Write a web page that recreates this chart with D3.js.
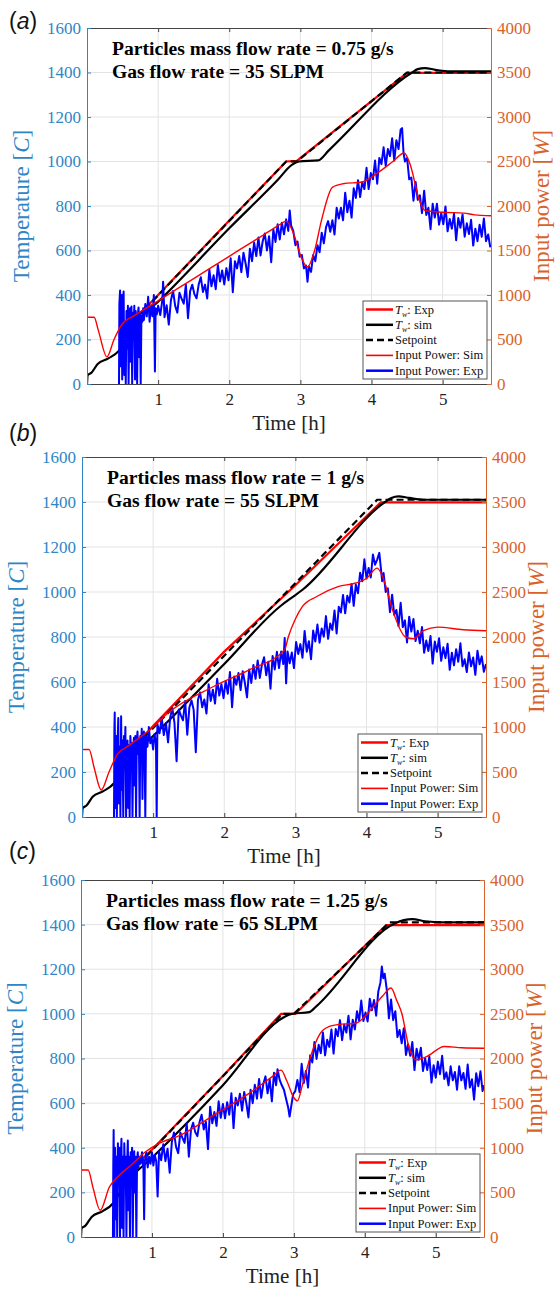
<!DOCTYPE html>
<html lang="en">
<head>
<meta charset="utf-8">
<title>Wall temperature and input power</title>
<script src="https://d3js.org/d3.v7.min.js"></script>
<style>
  body { margin: 0; background: #fff; }
  svg text { font-family: "Liberation Serif", "Times New Roman", serif; }
</style>
</head>
<body>
<div id="chart"></div>
<script>
// ticks
const timeTicks = [1, 2, 3, 4, 5];
const tempTicks = [0, 200, 400, 600, 800, 1000, 1200, 1400, 1600];
const powerTicks = [0, 500, 1000, 1500, 2000, 2500, 3000, 3500, 4000];
const timeMax = 5.68;

const panelLetters = ["a", "b", "c"];
const titleFlow = ["Particles mass flow rate = 0.75 g/s", "Particles mass flow rate = 1 g/s", "Particles mass flow rate = 1.25 g/s"];
const titleGas = ["Gas flow rate = 35 SLPM", "Gas flow rate = 55 SLPM", "Gas flow rate = 65 SLPM"];
const legendNames = ["Exp", "sim", "Setpoint", "Input Power: Sim", "Input Power: Exp"];

// ---- panel (a) ----  [time h, temperature C] / [time h, power W]
const setpointA = [[0.6, 265], [2.8, 1000], [2.95, 1000], [4.5, 1400], [5.68, 1400]];
const twExpA = [[0.6, 270], [1.0, 400], [2.0, 735], [2.8, 1000], [2.95, 1003], [3.7, 1195], [4.5, 1398], [5.68, 1398]];
const twSimA = [[0, 0], [0.01, 40], [0.06, 50], [0.15, 90], [0.3, 115], [0.45, 150], [0.55, 200], [0.7, 280], [1.0, 370], [2.0, 700], [2.68, 917], [2.88, 985], [2.98, 1000], [3.25, 1005], [3.4, 1050], [4.57, 1400], [4.65, 1415], [4.75, 1420], [4.9, 1412], [5.1, 1405], [5.68, 1405]];
const powSimA = [[0, 750], [0.1, 750], [0.16, 600], [0.28, 305], [0.38, 500], [0.5, 680], [0.65, 760], [1.0, 935], [1.5, 1185], [2.0, 1435], [2.5, 1685], [2.71, 1790], [2.8, 1830], [2.9, 1700], [3.0, 1450], [3.1, 1315], [3.2, 1500], [3.3, 1850], [3.45, 2210], [3.6, 2250], [3.87, 2270], [4.1, 2380], [4.3, 2500], [4.46, 2596], [4.55, 2450], [4.67, 2070], [4.75, 1950], [5.0, 1930], [5.3, 1920], [5.45, 1900], [5.68, 1890]];
const powExpA = [[0.45,0],[0.455,900],[0.465,1050],[0.475,200],[0.485,1000],[0.495,50],[0.505,950],[0.515,1040],[0.525,100],[0.535,700],[0.545,0],[0.555,820],[0.565,400],[0.575,880],[0.585,0],[0.595,760],[0.605,850],[0.615,250],[0.625,870],[0.635,0],[0.645,800],[0.655,600],[0.665,880],[0.675,50],[0.685,820],[0.695,700],[0.705,0],[0.715,780],[0.725,860],[0.735,300],[0.745,800],[0.755,0],[0.765,760],[0.78,700],[0.79,850],[0.80,720],[0.82,900],[0.84,760],[0.86,980],[0.88,700],[0.90,880],[0.92,760],[0.94,1000],[0.955,140],[0.965,850],[0.98,780],
  [1.00,880],[1.03,774],[1.06,947],[1.07,1150],[1.09,751],[1.12,884],[1.15,668],[1.18,941],[1.21,1045],[1.24,878],[1.27,802],[1.30,1025],[1.33,959],[1.36,902],[1.39,1116],[1.42,739],[1.45,1043],[1.48,1116],[1.51,1010],[1.54,963],[1.57,1117],[1.60,1200],[1.63,1034],[1.66,1117],[1.69,961],[1.72,1284],[1.75,1098],[1.78,1221],[1.81,1065],[1.84,1338],[1.87,1152],[1.90,1275],[1.93,1119],[1.96,1302],[1.99,1166],[2.02,1412],[2.05,1031],[2.08,1380],[2.11,1299],[2.14,1437],[2.17,1256],[2.20,1475],[2.23,1354],[2.26,1202],[2.29,1521],[2.32,1380],[2.35,1589],[2.38,1437],[2.41,1646],[2.44,1445],[2.47,1604],[2.50,1692],[2.53,1501],[2.56,1660],[2.59,1369],[2.62,1737],[2.65,1596],[2.68,1795],[2.71,1624],[2.74,1812],[2.77,1681],[2.80,1850],[2.83,1720],[2.85,1950],
  [2.87,1780],[2.90,1720],[2.93,1560],[2.96,1600],[2.99,1430],[3.02,1450],[3.05,1300],[3.08,1330],[3.10,1150],[3.12,1320],[3.15,1260],[3.18,1450],[3.21,1380],[3.24,1560],[3.27,1480],[3.30,1700],[3.33,1580],[3.36,1760],
  [3.39,1830],[3.42,1710],[3.45,1840],[3.48,1680],[3.51,1980],[3.54,1860],[3.57,1980],[3.60,1840],[3.63,2150],[3.66,1930],[3.69,2060],[3.72,1870],[3.75,2200],[3.78,2090],[3.81,2290],[3.84,2100],[3.87,2270],[3.90,2190],[3.93,2430],[3.96,2190],[3.99,2370],[4.02,2300],[4.05,2510],[4.08,2250],[4.11,2540],[4.14,2470],[4.17,2660],[4.20,2450],[4.23,2640],[4.26,2560],[4.29,2760],[4.32,2510],[4.35,2740],[4.38,2640],[4.41,2860],[4.43,2875],[4.45,2600],[4.47,2500],
  [4.50,2540],[4.53,2300],[4.56,2320],[4.59,2060],[4.62,2270],[4.65,2070],[4.68,2120],[4.71,1920],[4.74,2170],[4.77,1900],[4.80,1980],[4.83,1740],[4.86,2025],[4.89,1870],[4.92,2025],[4.95,1790],[4.98,1920],[5.01,1795],[5.04,1995],[5.07,1715],[5.10,1855],[5.13,1745],[5.16,1915],[5.19,1615],[5.22,1865],[5.25,1755],[5.28,1905],[5.31,1655],[5.34,1805],[5.37,1685],[5.40,1845],[5.43,1555],[5.46,1745],[5.49,1605],[5.52,1790],[5.55,1655],[5.58,1860],[5.61,1605],[5.64,1680],[5.67,1535]];

// ---- panel (b) ----
const setpointB = [[0.55, 250], [4.15, 1410], [5.68, 1410]];
const twExpB = [[0.6, 265], [1.0, 405], [2.0, 735], [3.0, 1030], [4.2, 1398], [5.68, 1398]];
const twSimB = [[0, 0], [0.01, 40], [0.06, 50], [0.15, 90], [0.3, 115], [0.45, 150], [0.55, 200], [0.7, 270], [1.0, 360], [2.0, 680], [2.8, 940], [2.95, 975], [3.1, 1010], [4.26, 1400], [4.35, 1418], [4.45, 1425], [4.6, 1418], [4.8, 1410], [5.68, 1410]];
const powSimB = [[0, 750], [0.1, 750], [0.17, 550], [0.27, 300], [0.38, 500], [0.5, 700], [0.65, 790], [1.0, 1000], [1.2, 1150], [1.85, 1450], [2.35, 1635], [2.85, 1860], [2.9, 2000], [3.0, 2200], [3.1, 2340], [3.3, 2450], [3.6, 2560], [3.85, 2600], [4.0, 2650], [4.15, 2765], [4.25, 2620], [4.35, 2340], [4.55, 2000], [4.66, 1980], [4.8, 2070], [5.0, 2110], [5.36, 2080], [5.68, 2070]];
const powExpB = [[0.45,0],[0.455,950],[0.46,1160],[0.47,100],[0.48,900],[0.49,0],[0.50,820],[0.51,1100],[0.52,150],[0.53,780],[0.54,0],[0.55,1120],[0.56,300],[0.57,850],[0.58,0],[0.59,900],[0.60,700],[0.61,1000],[0.62,0],[0.63,760],[0.64,850],[0.65,100],[0.66,800],[0.67,0],[0.68,900],[0.69,720],[0.70,820],[0.71,0],[0.72,780],[0.73,880],[0.74,350],[0.75,900],[0.76,0],[0.77,820],[0.78,950],[0.79,700],[0.80,860],[0.81,0],[0.82,900],[0.83,760],[0.84,980],[0.85,200],[0.86,850],[0.87,950],[0.88,780],[0.89,0],[0.90,900],[0.92,780],[0.94,1000],[0.96,820],[0.98,880],[1.0,750],[1.02,920],[1.04,820],[1.05,0],
  [1.06,1035],[1.09,930],[1.12,1105],[1.15,910],[1.18,1045],[1.21,830],[1.24,1105],[1.27,1210],[1.30,1045],[1.33,620],[1.36,1195],[1.39,1130],[1.42,1075],[1.45,1290],[1.48,915],[1.51,1220],[1.54,1295],[1.57,1190],[1.60,720],[1.63,1300],[1.66,1385],[1.69,1220],[1.72,1305],[1.75,1150],[1.78,1475],[1.81,1290],[1.84,1415],[1.87,1260],[1.90,1535],[1.93,1350],[1.96,1475],[1.99,1320],[2.02,1510],[2.05,1370],[2.08,1610],[2.11,1220],[2.14,1560],[2.17,1470],[2.20,1600],[2.23,1410],[2.26,1620],[2.29,1490],[2.32,1330],[2.35,1640],[2.38,1490],[2.41,1690],[2.44,1535],[2.47,1740],[2.50,1545],[2.53,1695],[2.56,1775],[2.59,1575],[2.62,1725],[2.65,1425],[2.68,1790],[2.71,1640],[2.74,1835],[2.77,1655],[2.80,1840],[2.83,1700],[2.85,1990],[2.86,1700],[2.87,1485],
  [2.89,1840],[2.92,1708],[2.95,1827],[2.98,1655],[3.01,1944],[3.04,1812],[3.07,1921],[3.10,1769],[3.13,2068],[3.16,1836],[3.19,1954],[3.22,1753],[3.25,2071],[3.28,1950],[3.31,2138],[3.34,1937],[3.37,2095],[3.40,2004],[3.43,2232],[3.46,1980],[3.49,2149],[3.52,2079],[3.55,2295],[3.58,2040],[3.61,2336],[3.64,2272],[3.67,2467],[3.70,2263],[3.73,2459],[3.76,2384],[3.79,2590],[3.82,2346],[3.85,2581],[3.88,2487],[3.91,2713],[3.94,2619],[3.97,2864],[4.00,2650],[4.03,2766],[4.06,2661],[4.09,2917],[4.12,2803],[4.15,2860],[4.18,2935],[4.20,2780],[4.22,2620],
  [4.24,2710],[4.27,2500],[4.30,2540],[4.33,2275],[4.36,2470],[4.39,2245],[4.42,2300],[4.45,2120],[4.48,2380],[4.51,2110],[4.54,2185],[4.57,1940],[4.60,2225],[4.63,2060],[4.66,2200],[4.69,1955],[4.72,2070],[4.75,1930],[4.78,2110],[4.81,1825],[4.84,1960],[4.87,1845],[4.90,2010],[4.93,1705],[4.96,1950],[4.99,1835],[5.02,1985],[5.05,1735],[5.08,1885],[5.11,1765],[5.14,1925],[5.17,1635],[5.20,1825],[5.23,1685],[5.26,1865],[5.29,1725],[5.32,1930],[5.35,1675],[5.38,1752],[5.41,1610],[5.44,1828],[5.47,1675],[5.50,1772],[5.53,1580],[5.56,1848],[5.59,1696],[5.62,1785],[5.65,1614],[5.68,1700]];

// ---- panel (c) ----
const setpointC = [[0.6, 255], [2.84, 1000], [3.0, 1000], [4.35, 1410], [5.68, 1410]];
const twExpC = [[0.8, 330], [1.0, 391], [2.0, 722], [2.82, 1000], [3.02, 1000], [4.3, 1398], [5.68, 1398]];
const twSimC = [[0, 0], [0.01, 40], [0.06, 50], [0.15, 90], [0.3, 115], [0.45, 150], [0.55, 200], [0.7, 265], [1.0, 355], [2.0, 680], [2.86, 985], [2.97, 1000], [3.22, 1008], [3.32, 1035], [4.42, 1405], [4.55, 1420], [4.67, 1425], [4.85, 1415], [5.1, 1410], [5.68, 1410]];
const powSimC = [[0, 750], [0.1, 750], [0.17, 550], [0.27, 300], [0.4, 560], [0.55, 700], [0.7, 800], [0.9, 950], [1.1, 1050], [1.37, 1130], [1.9, 1380], [2.37, 1610], [2.7, 1800], [2.82, 1870], [2.9, 1750], [3.0, 1560], [3.05, 1525], [3.12, 1700], [3.22, 1985], [3.37, 2280], [3.5, 2360], [3.62, 2380], [3.87, 2395], [4.12, 2580], [4.25, 2700], [4.37, 2790], [4.45, 2650], [4.52, 2510], [4.62, 2135], [4.72, 1985], [4.87, 2020], [5.12, 2135], [5.37, 2120], [5.68, 2115]];
const powExpC = [[0.45,0],[0.455,800],[0.46,1200],[0.47,0],[0.48,1000],[0.49,200],[0.50,900],[0.51,0],[0.52,1050],[0.53,600],[0.54,1000],[0.55,0],[0.56,850],[0.57,1100],[0.58,100],[0.59,900],[0.60,0],[0.61,1050],[0.62,700],[0.63,900],[0.64,0],[0.65,820],[0.66,1080],[0.67,300],[0.68,900],[0.69,0],[0.70,950],[0.71,800],[0.72,1000],[0.73,0],[0.74,880],[0.75,960],[0.76,500],[0.77,900],[0.78,0],[0.79,850],[0.80,950],[0.81,780],[0.82,900],[0.84,820],[0.86,950],[0.88,760],[0.89,200],[0.90,850],[0.92,950],[0.94,780],[0.96,900],[0.98,820],[1.00,950],[1.02,800],[1.04,920],[1.06,850],[1.08,455],
  [1.10,960],[1.13,860],[1.16,1040],[1.19,850],[1.22,990],[1.25,720],[1.28,1060],[1.31,1170],[1.34,1010],[1.37,940],[1.40,1170],[1.43,1110],[1.46,1055],[1.49,1275],[1.52,900],[1.55,1205],[1.58,1280],[1.61,1175],[1.64,1130],[1.67,1285],[1.70,1370],[1.73,1205],[1.76,1290],[1.79,985],[1.82,1460],[1.85,1275],[1.88,1400],[1.91,1245],[1.94,1520],[1.97,1335],[2.00,1490],[2.03,1330],[2.06,1510],[2.09,1370],[2.12,1610],[2.15,1220],[2.18,1560],[2.21,1475],[2.24,1605],[2.27,1415],[2.30,1625],[2.33,1500],[2.36,1340],[2.39,1650],[2.42,1500],[2.45,1705],[2.48,1550],[2.51,1770],[2.54,1560],[2.57,1715],[2.60,1800],[2.63,1610],[2.66,1765],[2.69,1520],[2.72,1840],[2.75,1700],[2.77,1880],
  [2.80,1760],[2.83,1700],[2.86,1650],[2.89,1550],[2.92,1450],[2.94,1350],[2.96,1450],[2.99,1600],
  [3.02,1635],[3.05,1760],[3.08,1625],[3.11,1940],[3.14,1725],[3.17,1860],[3.20,1675],[3.23,2035],[3.26,1955],[3.29,2185],[3.32,1995],[3.35,2155],[3.38,2060],[3.41,2290],[3.44,2035],[3.47,2210],[3.50,2130],[3.53,2325],[3.56,2055],[3.59,2330],[3.62,2250],[3.65,2430],[3.68,2205],[3.71,2380],[3.74,2290],[3.77,2480],[3.80,2215],[3.83,2435],[3.86,2325],[3.89,2530],[3.92,2420],[3.95,2650],[3.98,2420],[4.01,2515],[4.04,2415],[4.07,2670],[4.10,2540],[4.13,2655],[4.16,2480],[4.19,2750],[4.22,2850],[4.24,3030],[4.26,2900],[4.28,2950],
  [4.31,2770],[4.34,2450],[4.37,2660],[4.40,2430],[4.43,2530],[4.46,2240],[4.49,2320],[4.52,2170],[4.55,2340],[4.58,2040],[4.61,2160],[4.64,2030],[4.67,2185],[4.70,1870],[4.73,2110],[4.76,1985],[4.79,2120],[4.82,1860],[4.85,2000],[4.88,1870],[4.91,2020],[4.94,1730],[4.97,1925],[5.00,1785],[5.03,1965],[5.06,1825],[5.09,2030],[5.12,1770],[5.15,1845],[5.18,1700],[5.21,1912],[5.24,1755],[5.27,1848],[5.30,1650],[5.33,1912],[5.36,1755],[5.39,1838],[5.42,1660],[5.45,1932],[5.48,1675],[5.51,1768],[5.54,1540],[5.57,1835],[5.60,1690],[5.63,1857],[5.66,1635],[5.68,1700]];

const blueAxis = "#2f86c6";
const orangeAxis = "#d9622b";
const axisGray = "#444";
const serif = "'Liberation Serif', 'Times New Roman', serif";

const panels = [
  { left: 87, right: 491, top: 28, bottom: 384, labelY: 29, sp: setpointA, exp: twExpA, sim: twSimA, psim: powSimA, pexp: powExpA },
  { left: 82, right: 486, top: 457, bottom: 817, labelY: 441, sp: setpointB, exp: twExpB, sim: twSimB, psim: powSimB, pexp: powExpB },
  { left: 81, right: 484, top: 880, bottom: 1237, labelY: 859, sp: setpointC, exp: twExpC, sim: twSimC, psim: powSimC, pexp: powExpC }
];

const svg = d3.select("#chart").append("svg")
  .attr("width", 558).attr("height", 1293);

function styleAxis(sel, color, labelColor) {
  sel.attr("font-family", serif);
  sel.select(".domain").attr("stroke", color);
  sel.selectAll(".tick line").attr("stroke", color);
  sel.selectAll("text").attr("fill", labelColor)
    .style("font-size", "17px").style("font-family", serif);
}

panels.forEach(function (p, i) {
  const g = svg.append("g");
  const x = d3.scaleLinear().domain([0, timeMax]).range([p.left, p.right]);
  const yT = d3.scaleLinear().domain([0, 1600]).range([p.bottom, p.top]);
  const yP = d3.scaleLinear().domain([0, 4000]).range([p.bottom, p.top]);

  // grid
  g.selectAll(".gx").data(timeTicks).enter().append("line")
    .attr("x1", d => x(d)).attr("x2", d => x(d))
    .attr("y1", p.top).attr("y2", p.bottom)
    .attr("stroke", "#e3e3e3").attr("stroke-width", 1);
  g.selectAll(".gy").data(tempTicks.slice(1, -1)).enter().append("line")
    .attr("x1", p.left).attr("x2", p.right)
    .attr("y1", d => yT(d)).attr("y2", d => yT(d))
    .attr("stroke", "#e3e3e3").attr("stroke-width", 1);

  // lines
  const clipId = "clip" + i;
  svg.append("clipPath").attr("id", clipId).append("rect")
    .attr("x", p.left).attr("y", p.top - 2)
    .attr("width", p.right - p.left).attr("height", p.bottom - p.top + 2);
  const lines = g.append("g").attr("clip-path", "url(#" + clipId + ")");
  const lineT = d3.line().x(d => x(d[0])).y(d => yT(d[1]));
  const smoothT = d3.line().curve(d3.curveMonotoneX).x(d => x(d[0])).y(d => yT(d[1]));
  const lineP = d3.line().x(d => x(d[0])).y(d => yP(d[1]));
  const smoothP = d3.line().curve(d3.curveMonotoneX).x(d => x(d[0])).y(d => yP(d[1]));

  lines.append("path").datum(p.exp).attr("d", lineT)
    .attr("fill", "none").attr("stroke", "#ff0000").attr("stroke-width", 2.2);
  lines.append("path").datum(p.sim).attr("d", smoothT)
    .attr("fill", "none").attr("stroke", "#000").attr("stroke-width", 2.2);
  lines.append("path").datum(p.sp).attr("d", lineT)
    .attr("fill", "none").attr("stroke", "#000").attr("stroke-width", 2.2)
    .attr("stroke-dasharray", "7,4");
  lines.append("path").datum(p.pexp).attr("d", lineP)
    .attr("fill", "none").attr("stroke", "#0000ff").attr("stroke-width", 2)
    .attr("stroke-linejoin", "round");
  lines.append("path").datum(p.psim).attr("d", smoothP)
    .attr("fill", "none").attr("stroke", "#ff0000").attr("stroke-width", 1.4);

  // axes (MATLAB style ticks inside)
  const ax = g.append("g").attr("transform", `translate(0,${p.bottom})`)
    .call(d3.axisBottom(x).tickValues(timeTicks).tickFormat(d3.format("d"))
      .tickSizeInner(-4).tickSizeOuter(0).tickPadding(9));
  styleAxis(ax, axisGray, "#222");

  const axTop = g.append("g").attr("transform", `translate(0,${p.top})`)
    .call(d3.axisTop(x).tickValues(timeTicks).tickFormat("")
      .tickSizeInner(-4).tickSizeOuter(0));
  styleAxis(axTop, axisGray, "#222");

  const ayl = g.append("g").attr("transform", `translate(${p.left},0)`)
    .call(d3.axisLeft(yT).tickValues(tempTicks).tickFormat(d3.format("d"))
      .tickSizeInner(-4).tickSizeOuter(0).tickPadding(6));
  styleAxis(ayl, blueAxis, blueAxis);

  const ayr = g.append("g").attr("transform", `translate(${p.right},0)`)
    .call(d3.axisRight(yP).tickValues(powerTicks).tickFormat(d3.format("d"))
      .tickSizeInner(-4).tickSizeOuter(0).tickPadding(6));
  styleAxis(ayr, orangeAxis, orangeAxis);

  // axis titles
  const midY = (p.top + p.bottom) / 2;
  const tl = g.append("text")
    .attr("transform", `translate(${p.left - 58},${midY}) rotate(-90)`)
    .attr("text-anchor", "middle").attr("fill", blueAxis)
    .style("font-family", serif).style("font-size", "23px");
  tl.append("tspan").text("Temperature [");
  tl.append("tspan").attr("font-style", "italic").text("C");
  tl.append("tspan").text("]");

  const tr = g.append("text")
    .attr("transform", `translate(${p.right + 58},${midY}) rotate(-90)`)
    .attr("text-anchor", "middle").attr("fill", orangeAxis)
    .style("font-family", serif).style("font-size", "23px");
  tr.append("tspan").text("Input power [");
  tr.append("tspan").attr("font-style", "italic").text("W");
  tr.append("tspan").text("]");

  g.append("text")
    .attr("x", (p.left + p.right) / 2).attr("y", p.bottom + 46)
    .attr("text-anchor", "middle").attr("fill", "#222")
    .style("font-family", serif).style("font-size", "21px")
    .text("Time [h]");

  // panel label
  const pl = g.append("text").attr("x", 9).attr("y", p.labelY)
    .style("font-family", "'Liberation Sans', Arial, sans-serif").style("font-size", "23px").attr("fill", "#111");
  pl.append("tspan").text("(");
  pl.append("tspan").attr("font-style", "italic").text(panelLetters[i]);
  pl.append("tspan").text(")");

  // annotation
  g.append("text").attr("x", p.left + 25).attr("y", p.top + 27)
    .style("font-family", serif).style("font-size", "19.6px")
    .attr("font-weight", "bold").attr("fill", "#000")
    .text(titleFlow[i]);
  g.append("text").attr("x", p.left + 25).attr("y", p.top + 50)
    .style("font-family", serif).style("font-size", "19.6px")
    .attr("font-weight", "bold").attr("fill", "#000")
    .text(titleGas[i]);

  // legend
  const lx = p.right - 128, ly = p.bottom - 83;
  const leg = g.append("g");
  leg.append("rect").attr("x", lx).attr("y", ly).attr("width", 124).attr("height", 78)
    .attr("fill", "#fff").attr("stroke", "#555").attr("stroke-width", 1);
  const legStyles = [
    { c: "#ff0000", w: 2.5, dash: null },
    { c: "#000", w: 2.5, dash: null },
    { c: "#000", w: 2.5, dash: "7,4" },
    { c: "#ff0000", w: 1.6, dash: null },
    { c: "#0000ff", w: 2.5, dash: null }
  ];
  legStyles.forEach(function (s, k) {
    const yy = ly + 8.5 + k * 15.3;
    leg.append("line").attr("x1", lx + 3).attr("x2", lx + 30)
      .attr("y1", yy).attr("y2", yy)
      .attr("stroke", s.c).attr("stroke-width", s.w)
      .attr("stroke-dasharray", s.dash);
    const t = leg.append("text").attr("x", lx + 32).attr("y", yy + 4)
      .style("font-family", serif).style("font-size", "12.5px").attr("fill", "#111");
    if (k < 2) {
      t.append("tspan").attr("font-style", "italic").text("T");
      t.append("tspan").attr("font-style", "italic").attr("dy", 3).style("font-size", "8px").text("w");
      t.append("tspan").attr("dy", -3).text(": " + legendNames[k]);
    } else {
      t.text(legendNames[k]);
    }
  });
});
</script>
</body>
</html>
